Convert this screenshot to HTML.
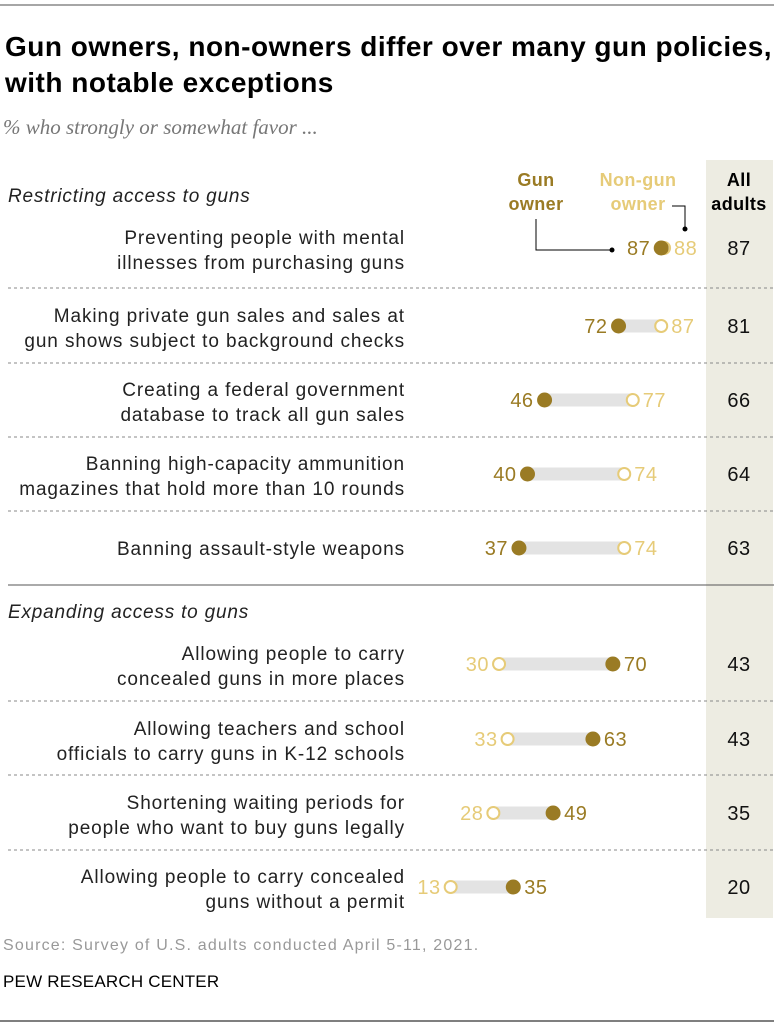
<!DOCTYPE html>
<html><head><meta charset="utf-8"><style>
body{margin:0;background:#fff}
svg{display:block;font-family:"Liberation Sans",sans-serif}
</style></head><body>
<svg id="chart" width="774" height="1024" viewBox="0 0 774 1024">
<line x1="0" y1="5" x2="774" y2="5" stroke="#888" stroke-width="1.5"/>
<text x="5" y="56" font-size="28" font-weight="bold" letter-spacing="0.5" fill="#000">Gun owners, non-owners differ over many gun policies,</text>
<text x="5" y="92" font-size="28" font-weight="bold" letter-spacing="0.5" fill="#000">with notable exceptions</text>
<text x="3" y="134" font-size="21" font-style="italic" fill="#777" font-family="Liberation Serif, serif">% who strongly or somewhat favor ...</text>
<rect x="706" y="160" width="67" height="758" fill="#edece2"/>
<text x="739" y="186" font-size="18" font-weight="bold" letter-spacing="0.4" text-anchor="middle"><tspan x="739">All</tspan><tspan x="739" dy="24">adults</tspan></text>
<text x="536" y="186" font-size="18" font-weight="bold" letter-spacing="0.4" text-anchor="middle" fill="#9a7b24"><tspan x="536">Gun</tspan><tspan x="536" dy="24">owner</tspan></text>
<text x="638" y="186" font-size="18" font-weight="bold" letter-spacing="0.4" text-anchor="middle" fill="#e6cb78"><tspan x="638">Non-gun</tspan><tspan x="638" dy="24">owner</tspan></text>
<polyline points="536,219 536,250 612,250" fill="none" stroke="#000" stroke-width="1"/>
<circle cx="612" cy="250" r="2.5" fill="#000"/>
<polyline points="672,206 685,206 685,228" fill="none" stroke="#000" stroke-width="1"/>
<circle cx="685" cy="229" r="2.5" fill="#000"/>
<text x="8" y="202" font-size="19" font-style="italic" letter-spacing="0.8" fill="#222">Restricting access to guns</text>
<text x="8" y="618" font-size="19" font-style="italic" letter-spacing="0.8" fill="#222">Expanding access to guns</text>
<line x1="8" y1="585" x2="774" y2="585" stroke="#555" stroke-width="1"/>
<text x="3" y="950" font-size="16" letter-spacing="1.2" fill="#999">Source: Survey of U.S. adults conducted April 5-11, 2021.</text>
<text x="3" y="987" font-size="17" letter-spacing="0.2" fill="#000">PEW RESEARCH CENTER</text>
<line x1="0" y1="1021" x2="774" y2="1021" stroke="#555" stroke-width="1.5"/>
<g id="rows"></g>
</svg>
<script>
const labels=[["Preventing people with mental","illnesses from purchasing guns"],["Making private gun sales and sales at","gun shows subject to background checks"],["Creating a federal government","database to track all gun sales"],["Banning high-capacity ammunition","magazines that hold more than 10 rounds"],["Banning assault-style weapons"],["Allowing people to carry","concealed guns in more places"],["Allowing teachers and school","officials to carry guns in K-12 schools"],["Shortening waiting periods for","people who want to buy guns legally"],["Allowing people to carry concealed","guns without a permit"]];
const gunOwner=[87,72,46,40,37,70,63,49,35];
const nonGunOwner=[88,87,77,74,74,30,33,28,13];
const allAdults=[87,81,66,64,63,43,43,35,20];
const rowY=[248,326,400,474,548,664,739,813,887];
const dividerY=[288,363,437,511,701,775,850];
const NS="http://www.w3.org/2000/svg";
const g=document.getElementById('rows');
const x=v=>413.7+v*2.845;
function mk(t,a){const e=document.createElementNS(NS,t);for(const k in a)e.setAttribute(k,a[k]);g.appendChild(e);return e;}
dividerY.forEach(y=>{const l=mk('line',{x1:8,y1:y,x2:774,y2:y,stroke:'#888','stroke-dasharray':'3,3'});

});
labels.forEach((lb,i)=>{
 const y=rowY[i];
 const t=mk('text',{x:405,y:lb.length>1?y-4:y+7,'font-size':19,'letter-spacing':0.9,'text-anchor':'end',fill:'#222'});
 
 
 lb.forEach((s,j)=>{const ts=document.createElementNS(NS,'tspan');ts.setAttribute('x',405);if(j)ts.setAttribute('dy',25);ts.textContent=s;t.appendChild(ts);});
 const a=gunOwner[i],b=nonGunOwner[i];
 const bar=mk('line',{x1:x(Math.min(a,b)),y1:y,x2:x(Math.max(a,b)),y2:y,stroke:'#e3e3e3','stroke-width':13});
 
 
 const c2=mk('circle',{cx:x(b),cy:y,r:6,fill:'#fff',stroke:'#e6cb78','stroke-width':2});
 
 
 const c1=mk('circle',{cx:x(a),cy:y,r:7.5,fill:'#9a7b24'});
 
 
 const gRight=a>=b;
 const ta=mk('text',{x:gRight?x(a)+11:x(a)-11,y:y+7,'font-size':20,'letter-spacing':0.5,fill:'#9a7b24','text-anchor':gRight?'start':'end'});
 ta.textContent=a;
 
 
 const tb=mk('text',{x:gRight?x(b)-10:x(b)+10,y:y+7,'font-size':20,'letter-spacing':0.5,fill:'#e6cb78','text-anchor':gRight?'end':'start'});
 tb.textContent=b;
 
 
 const tc=mk('text',{x:739,y:y+7,'font-size':20,'letter-spacing':0.5,fill:'#111','text-anchor':'middle'});
 tc.textContent=allAdults[i];
 
 
});
</script>
</body></html>
